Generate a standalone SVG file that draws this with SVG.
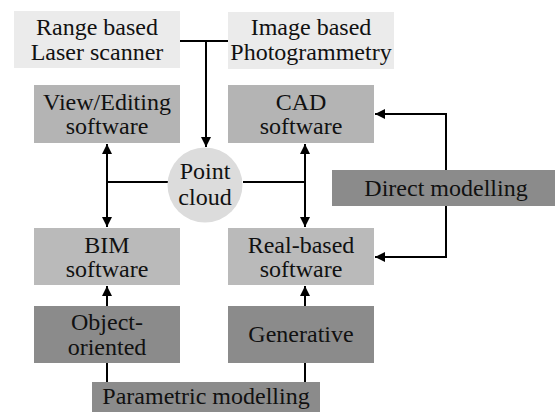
<svg xmlns="http://www.w3.org/2000/svg" width="555" height="412" viewBox="0 0 555 412">
<style>
text{font-family:"Liberation Serif","DejaVu Serif",serif;font-size:24px;fill:#111;text-anchor:middle}
.l1{fill:#ebebeb}.l2{fill:#b4b4b4}.l3{fill:#bababa}.d{fill:#8b8b8b}
.c{stroke:#000;stroke-width:2;fill:none}
</style>
<defs>
<marker id="a" markerWidth="10" markerHeight="10" refX="10" refY="5" orient="auto" markerUnits="userSpaceOnUse">
<path d="M0,0 L10,5 L0,10 z" fill="#000"/>
</marker>
</defs>
<rect width="555" height="412" fill="#fff"/>
<g id="connectors">
<path class="c" d="M180,41 H228"/>
<path class="c" d="M206,41 V147" marker-end="url(#a)"/>
<path class="c" d="M107,182 H168 M243,182 H305"/>
<path class="c" d="M107,182 V144" marker-end="url(#a)"/>
<path class="c" d="M107,182 V227" marker-end="url(#a)"/>
<path class="c" d="M305,182 V144" marker-end="url(#a)"/>
<path class="c" d="M305,182 V227" marker-end="url(#a)"/>
<path class="c" d="M107,306 V286" marker-end="url(#a)"/>
<path class="c" d="M305,306 V286" marker-end="url(#a)"/>
<path class="c" d="M107,382 V363 M305,382 V363"/>
<path class="c" d="M446,170 V114 H375" marker-end="url(#a)"/>
<path class="c" d="M446,206 V257 H375" marker-end="url(#a)"/>
</g>
<g id="range"><rect class="l1" x="14" y="11" width="166" height="57"/><text x="97" y="35">Range based</text><text x="97" y="60">Laser scanner</text></g>
<g id="image"><rect class="l1" x="228" y="12" width="166" height="57"/><text x="311" y="35">Image based</text><text x="311" y="60">Photogrammetry</text></g>
<g id="view"><rect class="l2" x="34" y="85" width="146" height="58"/><text x="107" y="110">View/Editing</text><text x="107" y="134">software</text></g>
<g id="cad"><rect class="l2" x="228" y="85" width="146" height="58"/><text x="301" y="110">CAD</text><text x="301" y="134">software</text></g>
<g id="pointcloud"><circle cx="205" cy="185" r="37.5" fill="#dcdcdc"/><text x="205" y="179">Point</text><text x="205" y="205">cloud</text></g>
<g id="direct"><rect class="d" x="332" y="170" width="223" height="36"/><text x="446" y="196">Direct modelling</text></g>
<g id="bim"><rect class="l3" x="34" y="228" width="146" height="57"/><text x="107" y="253">BIM</text><text x="107" y="277">software</text></g>
<g id="real"><rect class="l3" x="228" y="228" width="146" height="57"/><text x="301" y="253">Real-based</text><text x="301" y="277">software</text></g>
<g id="object"><rect class="d" x="34" y="306" width="146" height="57"/><text x="107" y="330">Object-</text><text x="107" y="355">oriented</text></g>
<g id="generative"><rect class="d" x="228" y="306" width="146" height="57"/><text x="301" y="342">Generative</text></g>
<g id="parametric"><rect class="d" x="92" y="382" width="228" height="30"/><text x="206" y="404">Parametric modelling</text></g>
</svg>
